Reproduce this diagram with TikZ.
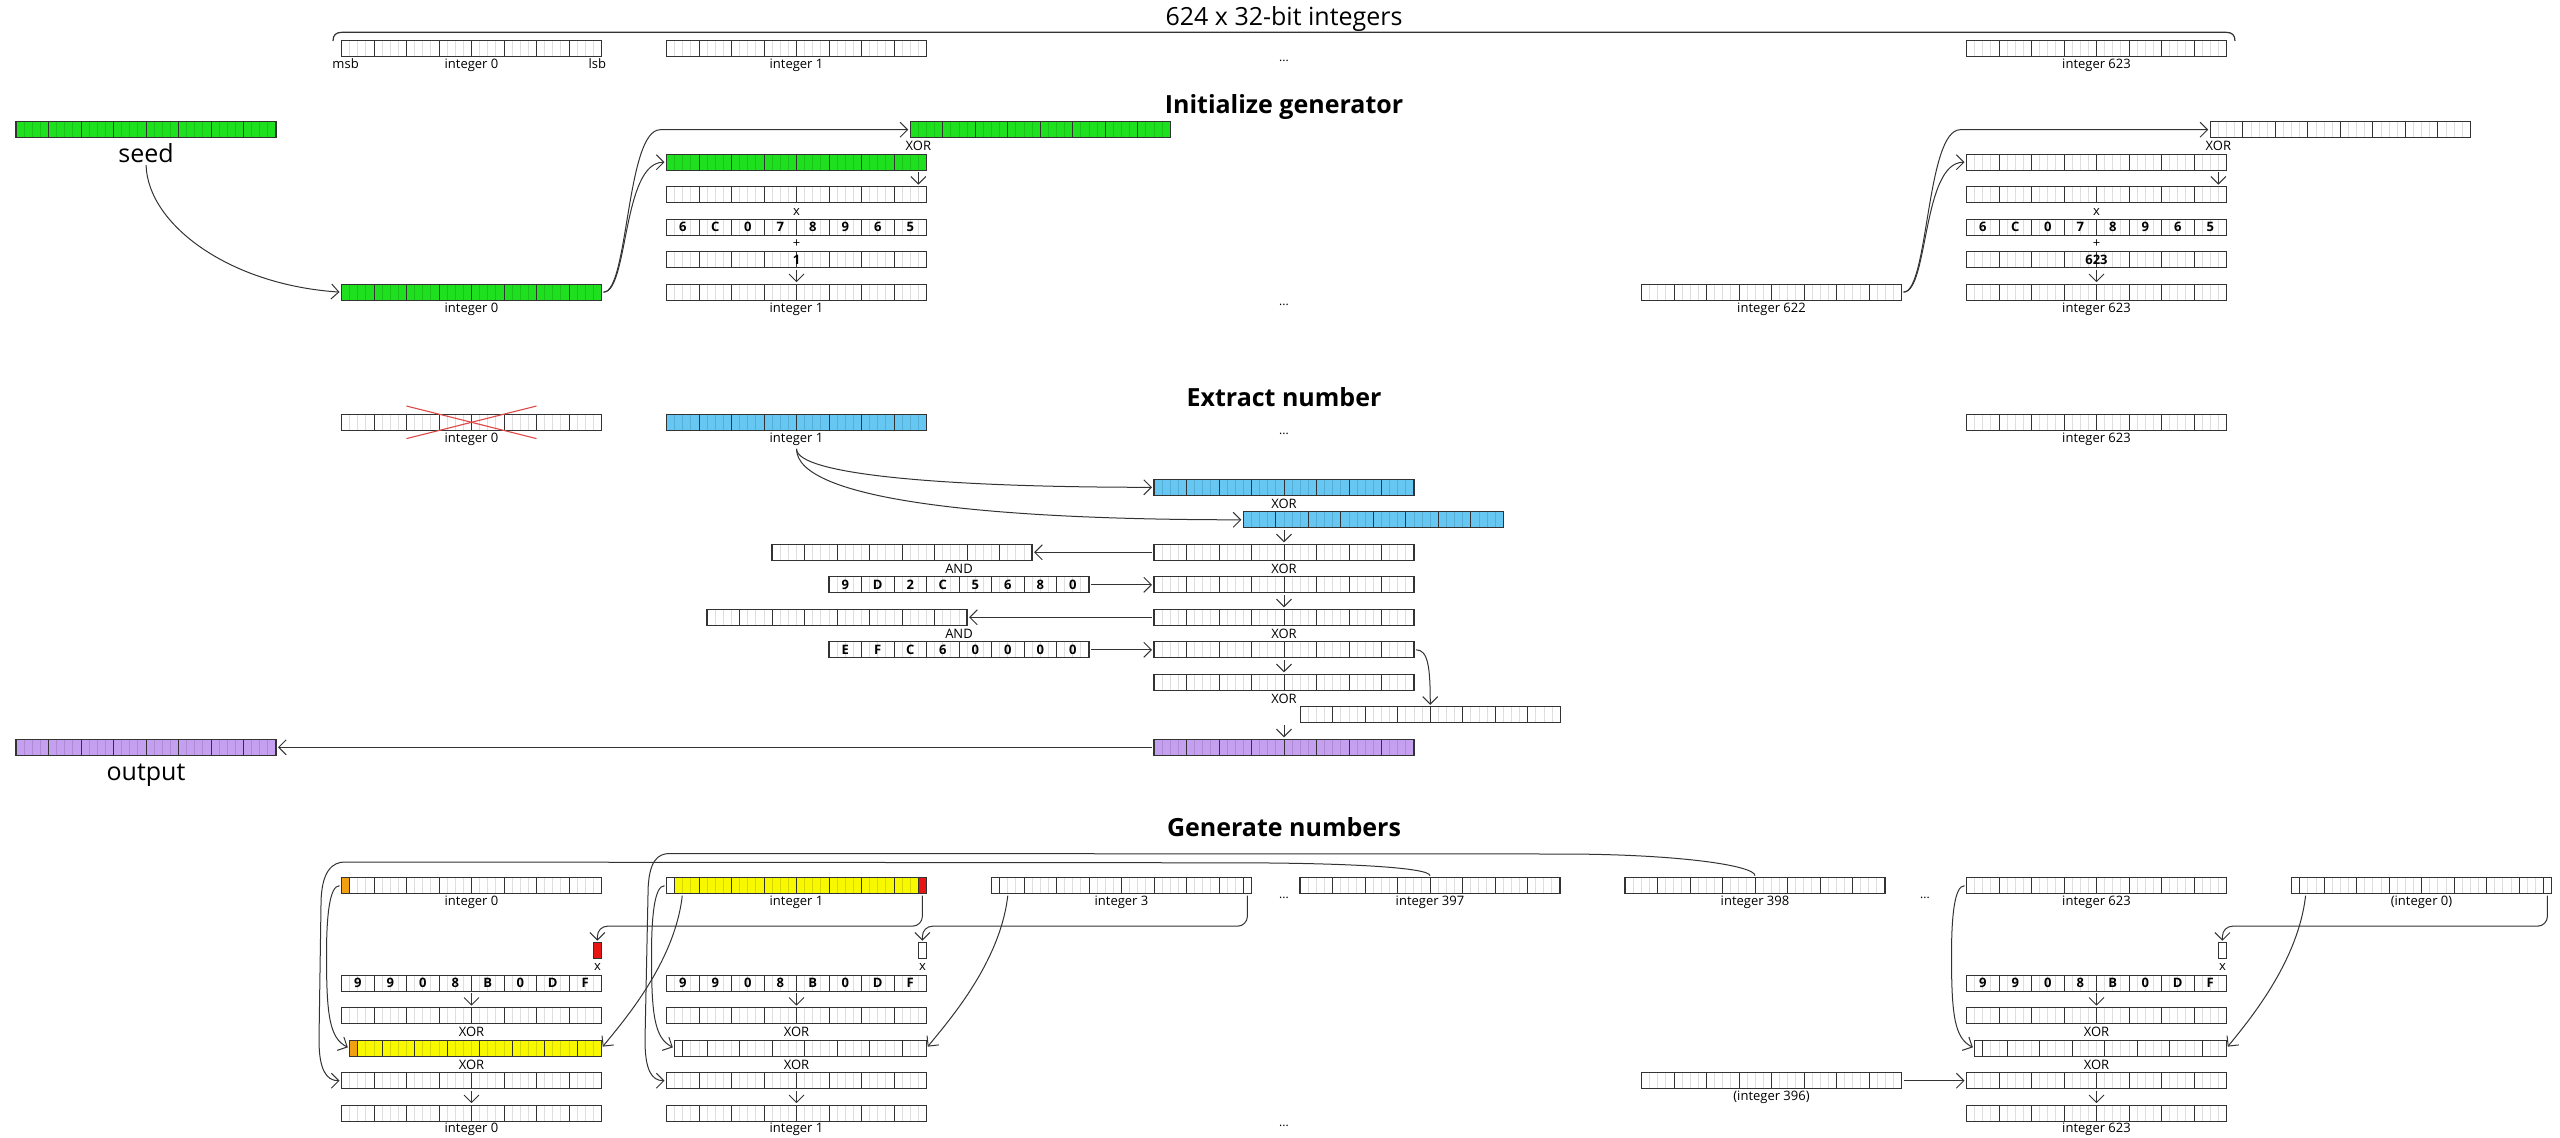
\documentclass[tikz,border=0pt]{standalone}
\usepackage{fontspec}
\setmainfont{Open Sans}
\usetikzlibrary{arrows.meta,calc}
\definecolor{boxc}{HTML}{333333}
\definecolor{linec}{HTML}{333333}
\definecolor{greenc}{HTML}{1EE01E}
\definecolor{bluec}{HTML}{66C8F2}
\definecolor{purplec}{HTML}{C6A0F0}
\definecolor{yellowc}{HTML}{F8F800}
\definecolor{orangec}{HTML}{F0A010}
\definecolor{redc}{HTML}{E81515}
\definecolor{crossc}{HTML}{E04848}
\newcommand\bitgrid{%
  \foreach \k in {1,...,31}{\draw[black,opacity=0.13,line width=0.8pt] ([xshift=\k*8.125pt]path picture bounding box.south west) -- ([xshift=\k*8.125pt]path picture bounding box.north west);}%
  \foreach \k in {1,...,7}{\draw[boxc,line width=1pt] ([xshift=\k*32.5pt]path picture bounding box.south west) -- ([xshift=\k*32.5pt]path picture bounding box.north west);}%
}
\newcommand\hexrow[2]{\foreach \d [count=\i from 0] in {#2}{\node[hexd] (#1d\i) at ($(#1.north west)+(16.25+32.5*\i,8)$) {\d};}}
\newcommand\cellbox[3]{\draw[cell,fill=#3] ($(#1.north west)+(#2*8.125,0)$) rectangle ($(#1.south west)+(#2*8.125+8.125,0)$);}
\tikzset{
  reg/.style={draw=boxc, line width=1.3pt, fill=white, minimum width=260pt, minimum height=16pt, inner sep=0pt, outer sep=0pt, anchor=north west, path picture={\bitgrid}},
  nbits/.style={minimum width=#1*8.125pt},
  lab/.style={font=\fontsize{13}{15}\selectfont, anchor=base, inner sep=1pt},
  hexd/.style={font=\fontsize{13}{15}\selectfont\bfseries, anchor=center, inner sep=0pt},
  dots/.style={font=\fontsize{12}{14}\selectfont, anchor=base, inner sep=0pt},
  ttl/.style={font=\fontsize{25}{30}\selectfont\bfseries, anchor=base, inner sep=0pt},
  big/.style={font=\fontsize{25}{30}\selectfont, anchor=base, inner sep=0pt},
  arr/.style={draw=linec, line width=1pt, -{Straight Barb[length=7.5pt,width=15pt]}, shorten >=2pt, shorten <=2pt},
  cell/.style={draw=boxc, line width=1.3pt},
}
\begin{document}
\begin{tikzpicture}[x=1pt,y=-1pt]
\useasboundingbox (0,0) rectangle (2560,1138);
% ---------------- top row
\node[big] (title0) at (1284,25) {624 x 32-bit integers};
\draw[linec, line width=1.2pt] (333,41) .. controls (333,35) and (336,32.3) .. (342,32.3) -- (2226,32.3) .. controls (2232,32.3) and (2235,35) .. (2235,41);
\node[reg] (t0) at (341.5,40.7) {};
\node[reg] (t1) at (666.5,40.7) {};
\node[reg] (t623) at (1966.5,40.7) {};
\node[lab] (lmsb) at (345.6,68.5) {msb};
\node[lab] (lt0) at (471.5,68.5) {integer 0};
\node[lab] (llsb) at (597.4,68.5) {lsb};
\node[lab] (lt1) at (796.5,68.5) {integer 1};
\node[lab] (lt623) at (2096.5,68.5) {integer 623};
\node[dots] (dtop) at (1284,61.5) {...};
% ---------------- initialize
\node[ttl] (tinit) at (1284,113.3) {Initialize generator};
\node[reg, fill=greenc] (seed) at (16,121.7) {};
\node[big] (lseed) at (146,162.7) {seed};
\node[reg, fill=greenc] (i0) at (341.5,284.2) {};
\node[lab] (li0) at (471.5,312.5) {integer 0};
% column integer 1
\node[reg, fill=greenc] (ia1) at (910.25,121.7) {};
\node[lab] (lxa1) at (918.4,150.7) {XOR};
\node[reg, fill=greenc] (ib1) at (666.5,154.2) {};
\node[reg] (ic1) at (666.5,186.7) {};
\node[lab] (lx1) at (796.5,215.2) {x};
\node[reg] (id1) at (666.5,219.2) {};
\hexrow{id1}{6,C,0,7,8,9,6,5}
\node[lab] (lp1) at (796.5,247.8) {+};
\node[reg] (ie1) at (666.5,251.7) {};
\node[hexd] (ie1t) at (ie1.center) {1};
\node[reg] (if1) at (666.5,284.2) {};
\node[lab] (lf1) at (796.5,312.5) {integer 1};
\node[dots] (dinit) at (1284,305) {...};
% column integer 623
\node[reg] (i622) at (1641.5,284.2) {};
\node[lab] (li622) at (1771.5,312.5) {integer 622};
\node[reg] (ia623) at (2210.25,121.7) {};
\node[lab] (lxa623) at (2218.4,150.7) {XOR};
\node[reg] (ib623) at (1966.5,154.2) {};
\node[reg] (ic623) at (1966.5,186.7) {};
\node[lab] (lx623) at (2096.5,215.2) {x};
\node[reg] (id623) at (1966.5,219.2) {};
\hexrow{id623}{6,C,0,7,8,9,6,5}
\node[lab] (lp623) at (2096.5,247.8) {+};
\node[reg] (ie623) at (1966.5,251.7) {};
\node[hexd] (ie623t) at (ie623.center) {623};
\node[reg] (if623) at (1966.5,284.2) {};
\node[lab] (lf623) at (2096.5,312.5) {integer 623};
% init connectors
\draw[arr] (lseed.south) .. controls (148,225) and (230,285) .. (i0.west);
\draw[arr] (i0.east) .. controls +(27,0) and +(-44.5,0) .. (ib1.west);
\draw[arr] (i0.east) .. controls +(27,0) and +(-34,0) .. ($(ia1.west)+(-250,0)$) -- (ia1.west);
\draw[arr] ($(ib1.south east)+(-8.125,0)$) -- ($(ic1.north east)+(-8.125,0)$);
\draw[arr] (ie1.south) -- (if1.north);
\draw[arr] (i622.east) .. controls +(27,0) and +(-44.5,0) .. (ib623.west);
\draw[arr] (i622.east) .. controls +(27,0) and +(-34,0) .. ($(ia623.west)+(-250,0)$) -- (ia623.west);
\draw[arr] ($(ib623.south east)+(-8.125,0)$) -- ($(ic623.north east)+(-8.125,0)$);
\draw[arr] (ie623.south) -- (if623.north);
% ---------------- extract
\node[ttl] (text) at (1284,406.5) {Extract number};
\node[reg] (e0) at (341.5,414.3) {};
\node[lab] (le0) at (471.5,442.5) {integer 0};
\draw[crossc, line width=1.1pt] ($(e0.center)+(-65,-16.3)$) -- ($(e0.center)+(65,16.3)$);
\draw[crossc, line width=1.1pt] ($(e0.center)+(-65,16.3)$) -- ($(e0.center)+(65,-16.3)$);
\node[reg, fill=bluec] (e1) at (666.5,414.3) {};
\node[lab] (le1) at (796.5,442.5) {integer 1};
\node[dots] (dext) at (1284,434.5) {...};
\node[reg] (e623) at (1966.5,414.3) {};
\node[lab] (le623) at (2096.5,442.5) {integer 623};
\node[reg, fill=bluec] (r1) at (1154,479.3) {};
\node[lab] (lr1) at (1284,508.3) {XOR};
\node[reg, fill=bluec] (r2) at (1243.375,511.8) {};
\node[reg] (r3) at (1154,544.3) {};
\node[lab] (lr3) at (1284,573.3) {XOR};
\node[reg] (l1) at (772.125,544.3) {};
\node[lab] (land1) at (959,573.3) {AND};
\node[reg] (k1) at (829,576.8) {};
\hexrow{k1}{9,D,2,C,5,6,8,0}
\node[reg] (r4) at (1154,576.8) {};
\node[reg] (r5) at (1154,609.3) {};
\node[lab] (lr5) at (1284,638.3) {XOR};
\node[reg] (l2) at (707.125,609.3) {};
\node[lab] (land2) at (959,638.3) {AND};
\node[reg] (k2) at (829,641.8) {};
\hexrow{k2}{E,F,C,6,0,0,0,0}
\node[reg] (r6) at (1154,641.8) {};
\node[reg] (r7) at (1154,674.3) {};
\node[lab] (lr7) at (1284,703.3) {XOR};
\node[reg] (r8) at (1300.25,706.8) {};
\node[reg, fill=purplec] (r9) at (1154,739.3) {};
\node[reg, fill=purplec] (outp) at (16,739.3) {};
\node[big] (lout) at (146,780.3) {output};
% extract connectors
\draw[arr] (le1.south) .. controls +(0,28.4) and +(-204,0) .. (r1.west);
\draw[arr] (le1.south) .. controls +(0,53.4) and +(-253.4,0) .. (r2.west);
\draw[arr] (r3.north |- r2.south) -- (r3.north);
\draw[arr] (r3.west) -- (l1.east);
\draw[arr] (k1.east) -- (r4.west);
\draw[arr] (r4.south) -- (r5.north);
\draw[arr] (r5.west) -- (l2.east);
\draw[arr] (k2.east) -- (r6.west);
\draw[arr] (r6.south) -- (r7.north);
\draw[arr] (r6.east) .. controls +(14,0) and +(0,-40) .. (r8.north);
\draw[arr] (r9.north |- r8.south) -- (r9.north);
\draw[arr] (r9.west) -- (outp.east);
% ---------------- generate
\node[ttl] (tgen) at (1284,836.7) {Generate numbers};
\node[reg] (g0) at (341.5,877.7) {};
\cellbox{g0}{0}{orangec}
\node[reg, fill=yellowc] (g1) at (666.5,877.7) {};
\cellbox{g1}{0}{white}
\cellbox{g1}{31}{redc}
\node[reg] (g3) at (991.5,877.7) {};
\cellbox{g3}{0}{white}
\cellbox{g3}{31}{white}
\node[reg] (g397) at (1300,877.7) {};
\node[reg] (g398) at (1625,877.7) {};
\node[reg] (g623) at (1966.5,877.7) {};
\node[reg] (gz) at (2291.5,877.7) {};
\cellbox{gz}{0}{white}
\cellbox{gz}{31}{white}
\node[lab] (lg0) at (471.5,905.7) {integer 0};
\node[lab] (lg1) at (796.5,905.7) {integer 1};
\node[lab] (lg3) at (1121.5,905.7) {integer 3};
\node[lab] (lg397) at (1430,905.7) {integer 397};
\node[lab] (lg398) at (1755,905.7) {integer 398};
\node[lab] (lg623) at (2096.5,905.7) {integer 623};
\node[lab] (lgz) at (2421.5,905.7) {(integer 0)};
\node[dots] (dg1) at (1284,898.5) {...};
\node[dots] (dg2) at (1925,898.5) {...};
\node[dots] (dg3) at (1284,1126.5) {...};
% small boxes
\node[reg, nbits=1, fill=redc] (s0) at (593.375,942.7) {};
\node[reg, nbits=1] (s1) at (918.375,942.7) {};
\node[reg, nbits=1] (s623) at (2218.375,942.7) {};
\node[lab] (lxs0) at (597.4,970.2) {x};
\node[lab] (lxs1) at (922.4,970.2) {x};
\node[lab] (lxs623) at (2222.4,970.2) {x};
% column 0
\node[reg] (kg0) at (341.5,975.2) {};
\hexrow{kg0}{9,9,0,8,B,0,D,F}
\node[reg] (a0) at (341.5,1007.7) {};
\node[lab] (la0) at (471.5,1036.7) {XOR};
\node[reg, nbits=31, fill=yellowc] (b0) at (349.625,1040.2) {};
\cellbox{b0}{0}{orangec}
\node[lab] (lb0) at (471.5,1069.2) {XOR};
\node[reg] (c0) at (341.5,1072.7) {};
\node[reg] (d0) at (341.5,1105.2) {};
\node[lab] (ld0) at (471.5,1132.5) {integer 0};
% column 1
\node[reg] (kg1) at (666.5,975.2) {};
\hexrow{kg1}{9,9,0,8,B,0,D,F}
\node[reg] (a1) at (666.5,1007.7) {};
\node[lab] (la1) at (796.5,1036.7) {XOR};
\node[reg, nbits=31] (b1) at (674.625,1040.2) {};
\cellbox{b1}{0}{white}
\node[lab] (lb1) at (796.5,1069.2) {XOR};
\node[reg] (c1) at (666.5,1072.7) {};
\node[reg] (d1) at (666.5,1105.2) {};
\node[lab] (ld1) at (796.5,1132.5) {integer 1};
% column 623
\node[reg] (kg623) at (1966.5,975.2) {};
\hexrow{kg623}{9,9,0,8,B,0,D,F}
\node[reg] (a623) at (1966.5,1007.7) {};
\node[lab] (la623) at (2096.5,1036.7) {XOR};
\node[reg, nbits=31] (b623) at (1974.625,1040.2) {};
\cellbox{b623}{0}{white}
\node[lab] (lb623) at (2096.5,1069.2) {XOR};
\node[reg] (c623) at (1966.5,1072.7) {};
\node[reg] (d623) at (1966.5,1105.2) {};
\node[lab] (ld623) at (2096.5,1132.5) {integer 623};
\node[reg] (g396) at (1641.5,1072.7) {};
\node[lab] (lg396) at (1771.5,1100.7) {(integer 396)};
% generate connectors
\foreach \c in {0,1,623}{
  \draw[arr] (kg\c.south) -- (a\c.north);
  \draw[arr] (c\c.south) -- (d\c.north);
}
\draw[arr, rounded corners=10pt] ($(g1.south east)+(-4.0625,0)$) |- ($(s0.north)+(0,-16.5)$) -- (s0.north);
\draw[arr, rounded corners=10pt] ($(g3.south east)+(-4.0625,0)$) |- ($(s1.north)+(0,-16.5)$) -- (s1.north);
\draw[arr, rounded corners=10pt] ($(gz.south east)+(-4.0625,0)$) |- ($(s623.north)+(0,-16.5)$) -- (s623.north);
\draw[arr] ($(g1.south west)+(16,0)$) .. controls +(-8,70) and +(20,-25) .. (b0.east);
\draw[arr] ($(g3.south west)+(16.5,0)$) .. controls +(-8,70) and +(20,-25) .. (b1.east);
\draw[arr] ($(gz.south west)+(14.3,0)$) .. controls +(-8,70) and +(20,-25) .. (b623.east);
\draw[arr] (g0.west) .. controls +(-12,0) and +(0,-40) .. ($(g0.west)+(-15,70)$) .. controls +(0,60) and +(-20,-10) .. (b0.west);
\draw[arr] (g1.west) .. controls +(-12,0) and +(0,-40) .. ($(g1.west)+(-15,70)$) .. controls +(0,60) and +(-20,-10) .. (b1.west);
\draw[arr] (g623.west) .. controls +(-12,0) and +(0,-40) .. ($(g623.west)+(-15,70)$) .. controls +(0,60) and +(-20,-10) .. (b623.west);
\draw[arr] (g397.north) .. controls +(0,-10) and +(120,0) .. (1230,862.8) -- (345,862) .. controls +(-12,0) and +(0,-35) .. (321,905) -- (319,1040) .. controls +(0,30) and +(-15,0) .. (c0.west);
\draw[arr] (g398.north) .. controls +(0,-12) and +(120,0) .. (1560,854) -- (670,853.5) .. controls +(-12,0) and +(0,-35) .. (648,895) -- (645,1040) .. controls +(0,30) and +(-15,0) .. (c1.west);
\draw[arr] (g396.east) -- (c623.west);
\end{tikzpicture}
\end{document}
